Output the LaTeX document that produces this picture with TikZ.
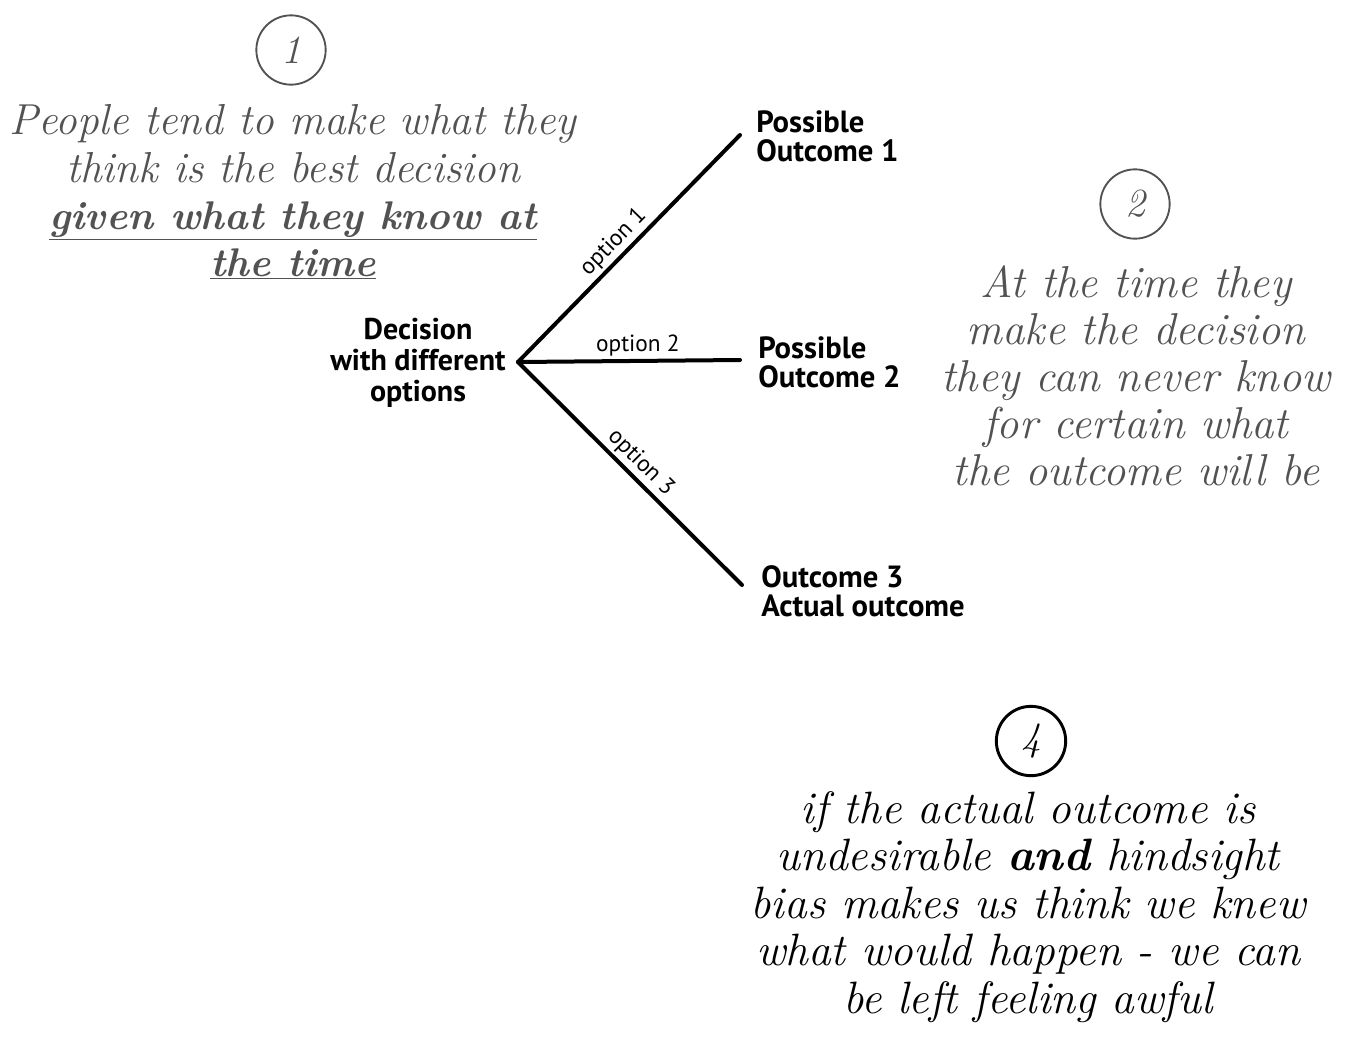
\documentclass[tikz,border=0pt]{standalone}
\usepackage{fontspec}
\newfontfamily\treefont{PT Sans}
\begin{document}
\begin{tikzpicture}[x=0.75pt,y=-0.75pt,
  notegray/.style={text=black!68, font=\fontsize{32.5}{35.3}\selectfont\itshape, align=center, inner sep=0pt},
  noteblack/.style={text=black, font=\fontsize{34}{35.6}\selectfont\itshape, align=center, inner sep=0pt},
  numcircle/.style={circle, draw=black!68, line width=1.4pt, minimum size=52pt, inner sep=0pt, text=black!68, font=\fontsize{30}{30}\selectfont\itshape},
  treetext/.style={font=\treefont\bfseries\fontsize{23}{21.8}\selectfont, inner sep=0pt},
  optlabel/.style={font=\treefont\fontsize{17.5}{18}\selectfont, inner sep=2pt},
  branch/.style={line width=3pt, line cap=round}]
\useasboundingbox (0,0) rectangle (1346,1036);

% note 1
\node[numcircle] (c1) at (291,50) {1};
\node[notegray] (n1) at (293,192) {People tend to make what they\\ think is the best decision\\ {\fontsize{30}{35.3}\selectfont\textbf{\underline{given what they know at}}}\\ {\fontsize{30}{35.3}\selectfont\textbf{\underline{the time}}}};

% note 2
\node[numcircle] (c2) at (1135,204) {2};
\node[notegray, font=\fontsize{33.5}{35.3}\selectfont\itshape] (n2) at (1136,376) {At the time they\\ make the decision\\ they can never know\\ for certain what\\ the outcome will be};

% note 4
\node[numcircle, draw=black, text=black, line width=2.2pt] (c4) at (1031,741) {4};
\node[noteblack] (n4) at (1028,907) {if the actual outcome is\\ undesirable \textbf{and} hindsight\\ bias makes us think we knew\\ what would happen - we can\\ be left feeling awful};

% decision tree
\node[treetext, align=center, font=\treefont\bfseries\fontsize{22.5}{23.3}\selectfont] (dec) at (418,363) {Decision\\ with different\\ options};
\coordinate (root) at (518,362);
\coordinate (e1) at (740,135);
\coordinate (e2) at (740,360);
\coordinate (e3) at (742,585);
\node[treetext, align=left, anchor=west] (o1) at (756,136.5) {Possible\\ Outcome 1};
\node[treetext, align=left, anchor=west] (o2) at (758,362.5) {Possible\\ Outcome 2};
\node[treetext, align=left, anchor=west] (o3) at (761,591.5) {Outcome 3\\ Actual outcome};

\draw[branch] (root) -- node[optlabel, sloped, above, pos=0.48] (l1) {option 1} (e1);
\draw[branch] (root) -- node[optlabel, above, pos=0.54] (l2) {option 2} (e2);
\draw[branch] (root) -- node[optlabel, sloped, above, pos=0.5] (l3) {option 3} (e3);
\end{tikzpicture}
\end{document}
